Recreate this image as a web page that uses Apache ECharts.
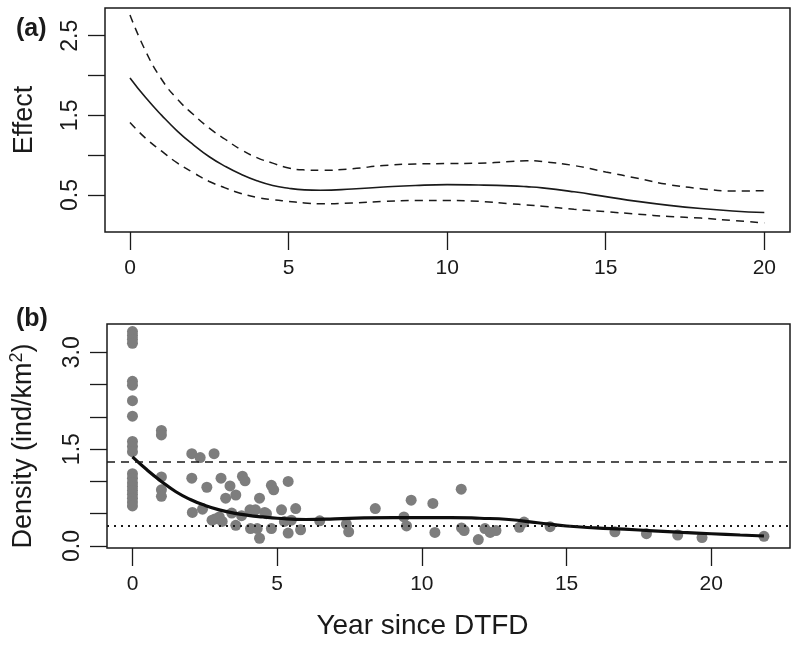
<!DOCTYPE html>
<html>
<head>
<meta charset="utf-8">
<script src="https://cdn.jsdelivr.net/npm/echarts@6/dist/echarts.min.js"></script>
<style>
html,body{margin:0;padding:0;background:#fff;}
#chart{width:800px;height:647px;}
</style>
</head>
<body>
<div id="chart"></div>
<script>
// ---------- Panel (a): fitted effect with confidence band ----------
const effectYears = [0,0.5,1,1.5,2,2.5,3,3.5,4,4.5,5,5.5,6,7,8,9,10,11,12,12.5,13,14,15,16,17,18,19,20];
const effectFit   = [1.97,1.72,1.50,1.30,1.13,0.98,0.86,0.76,0.68,0.62,0.585,0.565,0.56,0.575,0.60,0.62,0.63,0.625,0.615,0.605,0.59,0.54,0.48,0.42,0.37,0.33,0.30,0.28];
const effectUpper = [2.76,2.30,1.95,1.70,1.51,1.34,1.20,1.07,0.97,0.90,0.84,0.815,0.81,0.83,0.87,0.89,0.895,0.90,0.92,0.93,0.92,0.87,0.79,0.71,0.63,0.58,0.55,0.555];
const effectLower = [1.41,1.21,1.05,0.90,0.78,0.67,0.59,0.52,0.47,0.44,0.42,0.40,0.39,0.40,0.42,0.43,0.43,0.42,0.39,0.375,0.36,0.32,0.29,0.26,0.23,0.21,0.18,0.15];

// ---------- Panel (b): observed densities and fitted curve ----------
const densityYears = [
  0,0,0,0,0,0,0,0,0,0,0,0,0,0,0,0,0,0,0,0,
  1,1,1,1,1,
  2.05,2.34,2.82,2.05,2.57,3.06,3.37,3.57,3.22,3.8,3.89,4.8,4.88,5.38,4.39,
  2.07,2.42,2.85,3.0,2.75,3.1,3.43,3.77,3.57,4.06,4.25,4.57,4.08,4.31,4.39,
  4.8,5.15,5.64,5.38,5.49,5.81,4.63,5.25,6.47,
  7.39,7.47,8.39,9.38,9.47,9.63,10.38,10.45,11.36,11.37,11.46,11.95,12.18,12.36,12.56,
  13.37,13.53,14.43,16.67,17.76,18.84,19.68,21.82
];
const densityValues = [
  3.32,3.26,3.20,3.14,2.55,2.49,2.25,2.01,1.62,1.54,1.46,1.12,1.05,0.98,0.92,0.86,0.80,0.74,0.68,0.62,
  1.79,1.72,1.07,0.87,0.77,
  1.43,1.37,1.43,1.05,0.91,1.05,0.93,0.79,0.74,1.08,1.01,0.94,0.87,1.00,0.74,
  0.52,0.57,0.42,0.45,0.40,0.38,0.51,0.47,0.32,0.56,0.56,0.52,0.27,0.27,0.12,
  0.27,0.56,0.58,0.20,0.40,0.25,0.50,0.38,0.39,
  0.34,0.22,0.58,0.45,0.31,0.71,0.66,0.21,0.88,0.28,0.24,0.10,0.27,0.21,0.24,
  0.29,0.37,0.30,0.22,0.19,0.17,0.13,0.15
];
const curveYears  = [0,0.5,1,1.5,2,2.5,3,3.5,4,4.5,5,6,7,8,9,10,11,12,13,14,15,16,17,18,19,20,21,21.82];
const curveValues = [1.38,1.18,1.00,0.84,0.72,0.63,0.56,0.51,0.475,0.45,0.43,0.41,0.42,0.435,0.44,0.44,0.44,0.43,0.41,0.36,0.31,0.28,0.26,0.235,0.21,0.19,0.17,0.155];
const upperThreshold = 1.305;
const lowerThreshold = 0.31;

// ---------- Ticks ----------
const xTicksA = [0,5,10,15,20];
const yTicksA = [0.5,1,1.5,2,2.5];
const yLabelsA = [0.5,1.5,2.5];
const xTicksB = [0,5,10,15,20];
const yTicksB = [0,0.5,1,1.5,2,2.5,3];
const yLabelsB = [0,1.5,3];

const pair = (xs, ys) => xs.map((x, i) => [x, ys[i]]);
const FONT = "'Liberation Sans', Arial, Helvetica, sans-serif";
const INK = '#1a1a1a';

function xAxisCfg(gridIndex, min, max, ticks) {
  return {
    type: 'value', gridIndex, min, max,
    axisLine: { show: false, onZero: false },
    splitLine: { show: false },
    axisTick: { show: true, customValues: ticks, length: 18, lineStyle: { color: INK, width: 1.3 } },
    axisLabel: { customValues: ticks, margin: 26, fontSize: 21, color: INK, fontFamily: FONT }
  };
}
function yAxisCfg(gridIndex, min, max, ticks, labels, name, nameExtra) {
  return Object.assign({
    type: 'value', gridIndex, min, max,
    axisLine: { show: false, onZero: false },
    splitLine: { show: false },
    axisTick: { show: true, customValues: ticks, length: 17, lineStyle: { color: INK, width: 1.3 } },
    axisLabel: { customValues: labels, rotate: 90, margin: 23, fontSize: 23, color: INK, fontFamily: FONT,
                 formatter: v => v.toFixed(1) },
    name: name, nameLocation: 'middle', nameRotate: 90, nameGap: 67,
    nameTextStyle: { fontSize: 27, color: INK, fontFamily: FONT }
  }, nameExtra || {});
}

const chart = echarts.init(document.getElementById('chart'), null, { renderer: 'canvas' });
chart.setOption({
  animation: false,
  backgroundColor: '#ffffff',
  title: [
    { text: '(a)', left: 11, top: 12, textStyle: { fontSize: 25, fontWeight: 'bold', color: INK, fontFamily: FONT } },
    { text: '(b)', left: 11, top: 302, textStyle: { fontSize: 25, fontWeight: 'bold', color: INK, fontFamily: FONT } }
  ],
  grid: [
    { left: 105, top: 8, width: 685, height: 224, show: true, borderColor: INK, borderWidth: 1.5, backgroundColor: 'transparent' },
    { left: 105, top: 324, width: 685, height: 224, show: true, borderColor: INK, borderWidth: 1.5, backgroundColor: 'transparent' }
  ],
  xAxis: [
    xAxisCfg(0, -0.788, 20.81, xTicksA),
    Object.assign(xAxisCfg(1, -0.88, 22.72, xTicksB), {
      name: 'Year since DTFD', nameLocation: 'middle', nameGap: 64,
      nameTextStyle: { fontSize: 28, color: INK, fontFamily: FONT, padding: [0, 52, 0, 0] }
    })
  ],
  yAxis: [
    yAxisCfg(0, 0.0355, 2.848, yTicksA, yLabelsA, 'Effect'),
    yAxisCfg(1, -0.031, 3.438, yTicksB, yLabelsB, 'Density (ind/km{sup|2})', {
      nameTextStyle: { fontSize: 27, color: INK, fontFamily: FONT, padding: [0, 20, 0, 0],
        rich: { sup: { fontSize: 18, verticalAlign: 'top', padding: [0, 0, 14, 0], color: INK, fontFamily: FONT } } }
    })
  ],
  series: [
    { type: 'line', xAxisIndex: 0, yAxisIndex: 0, data: pair(effectYears, effectUpper), showSymbol: false,
      smooth: 0.5, lineStyle: { color: INK, width: 1.5, type: [8, 6] } },
    { type: 'line', xAxisIndex: 0, yAxisIndex: 0, data: pair(effectYears, effectFit), showSymbol: false,
      smooth: 0.5, lineStyle: { color: INK, width: 1.6 } },
    { type: 'line', xAxisIndex: 0, yAxisIndex: 0, data: pair(effectYears, effectLower), showSymbol: false,
      smooth: 0.5, lineStyle: { color: INK, width: 1.5, type: [8, 6] } },
    { type: 'scatter', xAxisIndex: 1, yAxisIndex: 1, data: pair(densityYears, densityValues),
      symbol: 'circle', symbolSize: 11, itemStyle: { color: '#7d7d7d', opacity: 1 }, z: 2 },
    { type: 'line', xAxisIndex: 1, yAxisIndex: 1, data: pair(curveYears, curveValues), showSymbol: false,
      smooth: 0.5, lineStyle: { color: '#0d0d0d', width: 3.2 }, z: 4,
      markLine: {
        silent: true, symbol: ['none', 'none'], label: { show: false },
        data: [
          { yAxis: upperThreshold, lineStyle: { color: INK, width: 1.5, type: [8, 6] } },
          { yAxis: lowerThreshold, lineStyle: { color: INK, width: 1.8, type: [2, 5] } }
        ]
      } }
  ]
});
</script>
</body>
</html>
